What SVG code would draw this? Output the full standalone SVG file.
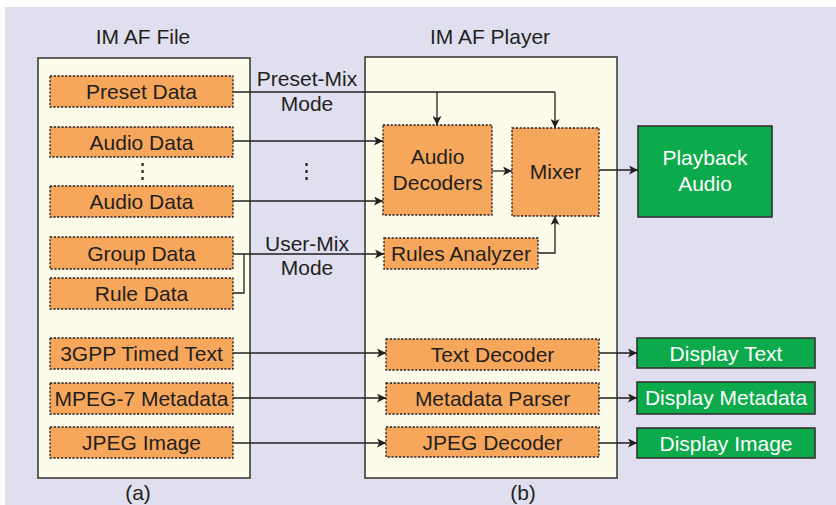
<svg xmlns="http://www.w3.org/2000/svg" width="836" height="505" viewBox="0 0 836 505">
<defs>
<marker id="ah" viewBox="0 0 10 10" refX="10" refY="5" markerWidth="9" markerHeight="9" markerUnits="userSpaceOnUse" orient="auto">
<path d="M0,0 L10,5 L0,10 L2.5,5 z" fill="#231f20"/>
</marker>
<style>
text{font-family:"Liberation Sans",Arial,Helvetica,sans-serif;font-size:21px;fill:#231f20;text-anchor:middle}
.o{fill:#F6A75C;stroke:#231f20;stroke-width:1.3;stroke-dasharray:2.2 1.6}
.g{fill:#0CAA4B;stroke:#333;stroke-width:1.6}
.g+text,.w{fill:#ffffff}
.p{fill:#FDFBEA;stroke:#333;stroke-width:1.5}
.c{fill:none;stroke:#231f20;stroke-width:1.3}
.a{marker-end:url(#ah)}
</style>
</defs>
<rect x="5" y="7" width="831" height="498" fill="#DFDFEF"/>
<g id="panel-file">
<rect class="p" x="38" y="58" width="212" height="420"/>
<text x="143" y="44">IM AF File</text>
<text x="138" y="500">(a)</text>
</g>
<g id="panel-player">
<rect class="p" x="365" y="57" width="252" height="421"/>
<text x="490" y="44">IM AF Player</text>
<text x="523" y="500">(b)</text>
</g>
<g id="preset-data"><rect class="o" x="50" y="76" width="183" height="31"/><text x="141.5" y="99">Preset Data</text></g>
<g id="audio-data-1"><rect class="o" x="50" y="127" width="183" height="30"/><text x="141.5" y="149.5">Audio Data</text></g>
<g id="dots-left"><text x="142" y="178">⋮</text></g>
<g id="audio-data-2"><rect class="o" x="50" y="186" width="183" height="31"/><text x="141.5" y="209">Audio Data</text></g>
<g id="group-data"><rect class="o" x="50" y="237" width="183" height="32"/><text x="141.5" y="260.5">Group Data</text></g>
<g id="rule-data"><rect class="o" x="50" y="278" width="183" height="31"/><text x="141.5" y="301">Rule Data</text></g>
<g id="timed-text"><rect class="o" x="50" y="338" width="183" height="31"/><text x="141.5" y="361">3GPP Timed Text</text></g>
<g id="mpeg7"><rect class="o" x="50" y="383" width="183" height="31"/><text x="141.5" y="406">MPEG-7 Metadata</text></g>
<g id="jpeg-image"><rect class="o" x="50" y="427" width="183" height="31"/><text x="141.5" y="450">JPEG Image</text></g>
<g id="audio-decoders"><rect class="o" x="383" y="125" width="109" height="90"/><text x="437.5" y="164">Audio</text><text x="437.5" y="190">Decoders</text></g>
<g id="mixer"><rect class="o" x="512" y="128" width="87" height="88"/><text x="555.5" y="179">Mixer</text></g>
<g id="rules-analyzer"><rect class="o" x="384" y="238" width="154" height="31"/><text x="461" y="261">Rules Analyzer</text></g>
<g id="text-decoder"><rect class="o" x="386" y="339" width="213" height="31"/><text x="492.5" y="362">Text Decoder</text></g>
<g id="metadata-parser"><rect class="o" x="386" y="383" width="213" height="31"/><text x="492.5" y="406">Metadata Parser</text></g>
<g id="jpeg-decoder"><rect class="o" x="386" y="427" width="213" height="30"/><text x="492.5" y="449.5">JPEG Decoder</text></g>
<g id="playback-audio"><rect class="g" x="638" y="126" width="134" height="91"/><text class="w" x="705" y="165">Playback</text><text class="w" x="705" y="191">Audio</text></g>
<g id="display-text"><rect class="g" x="637" y="338" width="178" height="30"/><text class="w" x="726" y="360.5">Display Text</text></g>
<g id="display-metadata"><rect class="g" x="637" y="382" width="178" height="32"/><text class="w" x="726" y="405">Display Metadata</text></g>
<g id="display-image"><rect class="g" x="637" y="428" width="178" height="30"/><text class="w" x="726" y="450.5">Display Image</text></g>
<g id="connectors">
<path class="c" d="M233,92 H555"/>
<path class="c a" d="M437,92 V125"/>
<path class="c a" d="M555,92 V128"/>
<path class="c a" d="M233,141 H383"/>
<path class="c a" d="M233,201 H383"/>
<path class="c a" d="M233,254 H384"/>
<path class="c" d="M233,293 H244 V254"/>
<path class="c a" d="M492,171 H512"/>
<path class="c a" d="M599,170 H638"/>
<path class="c a" d="M538,253 H555 V216"/>
<path class="c a" d="M233,353 H386"/>
<path class="c a" d="M233,398 H386"/>
<path class="c a" d="M233,443 H386"/>
<path class="c a" d="M599,353 H637"/>
<path class="c a" d="M599,398 H637"/>
<path class="c a" d="M599,443 H637"/>
</g>
<g id="labels">
<text x="307" y="86">Preset-Mix</text>
<text x="307" y="111">Mode</text>
<text x="306" y="178">⋮</text>
<text x="307" y="251">User-Mix</text>
<text x="307" y="275">Mode</text>
</g>
</svg>
